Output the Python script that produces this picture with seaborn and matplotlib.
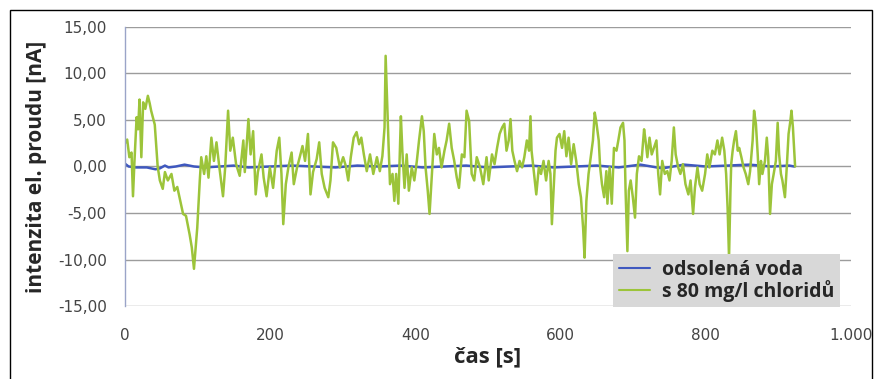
import matplotlib
matplotlib.use("Agg")
import matplotlib.pyplot as plt
import seaborn as sns
import pandas as pd
from matplotlib.ticker import FuncFormatter, MultipleLocator
from matplotlib.patches import Rectangle

# values
green_t = [0, 3, 6, 9, 11, 13, 16, 18, 20, 22.5, 25, 28, 31.5, 34, 36, 41, 45, 48, 52, 55,
           59, 64, 68, 72, 75, 80, 84, 89, 92, 95, 97, 99.5, 103, 105, 109, 112, 115, 119, 122.5, 126,
           130, 135, 138, 142, 145, 148.5, 153, 158, 161, 163, 165, 170, 173, 176.5, 180, 183, 188, 191,
           195, 199.5, 204, 209, 212.5, 215.5, 218, 221.5, 225, 229.5, 232.5, 237, 241, 244.5, 248, 252,
           255.5, 259, 264, 267.5, 271, 275, 280, 283, 286.5, 291, 296, 300.5, 304, 307.5, 311, 315,
           319, 322.5, 325.5, 329, 333, 337.5, 342, 347, 351, 354.5, 357.5, 359, 361, 363, 365, 368.5,
           371, 373.5, 376.5, 380, 382, 385, 388, 391, 395, 398.5, 402, 405, 409, 411.5, 414, 417,
           419.5, 422.5, 426, 429.5, 432.5, 436, 440, 443, 446.5, 450, 453.5, 457, 460, 464, 467.5,
           470.5, 474, 477.5, 481, 484.5, 489, 493.5, 498, 501, 505.5, 509, 512.5, 516, 519.5, 522.5,
           525.5, 528.5, 531, 533.5, 536.5, 540, 543.5, 547, 550, 553.5, 556.5, 558.5, 560, 563, 566.5,
           570, 573, 576.5, 580, 583.5, 586, 588, 590.5, 593, 595, 598.5, 602, 605, 608, 611, 614.5,
           618, 621.5, 625, 628, 631, 633, 635.5, 638.5, 642, 644.5, 647, 649, 652.5, 654.5, 657, 660,
           663, 664.5, 667.5, 670.5, 673.5, 677, 679.5, 682.5, 686, 688, 689.5, 692, 694, 696.5, 699.5,
           702.5, 705, 708, 711.5, 715, 717, 719.5, 722.5, 725.5, 728.5, 732, 734.5, 737, 740, 743.5,
           747, 750, 753, 756, 758.5, 762, 765, 768.5, 772, 776, 779, 782.5, 785, 788.5, 791.5, 795,
           799, 802, 805, 809, 812.5, 816, 819, 822.5, 825.5, 828, 830, 832, 834, 835, 837, 839, 841.5,
           844, 846, 849, 852, 855, 858.5, 861, 864.5, 866.5, 869, 871.5, 873.5, 876, 878, 881.5, 884,
           886, 888.5, 891, 893.5, 896.5, 899, 901, 903.5, 905.5, 909, 911.5, 914, 916.5, 918, 920,
           921.5, 923]
green_v = [2.5, 2.9, 1.0, 1.5, -3.2, 0.5, 5.3, 4.0, 7.2, 1.0, 6.9, 6.2, 7.6, 6.8, 6.0, 4.5, 0.0, -1.5, -2.4, -0.6,
           -1.5, -0.8, -2.6, -2.2, -3.3, -5.1, -5.3, -7.3, -8.7, -11.0, -9.1, -6.6, -1.5, 1.0, -0.8, 1.1, -1.2, 3.1, 0.6, 2.6,
           -0.1, -3.2, -0.1, 6.0, 1.7, 3.1, 0.25, -1.0, 1.3, 2.8, -0.6, 5.1, 1.3, 3.8, -3.0, -0.6, 1.3, -1.2,
           -3.2, -0.1, -2.3, 1.7, 3.1, -0.8, -6.2, -1.9, -0.1, 1.5, -1.9, -0.1, 1.1, 2.2, 0.6, 3.5,
           -3.0, -0.6, 0.8, 2.6, -0.8, -2.3, -3.3, -1.5, 2.6, 2.0, -0.1, 1.0, 0.1, -1.5, 1.0, 3.1,
           3.7, 2.4, 3.1, 1.3, -0.5, 1.3, -0.8, 1.0, -0.5, 1.1, 4.2, 11.9, 7.1, 2.4, -1.9, -0.8,
           -3.7, -0.8, -4.0, 5.4, 1.7, -2.3, 1.3, -2.6, -0.1, -1.5, 0.6, 2.8, 5.4, 3.8, -0.1, -2.6,
           -5.1, -1.2, 3.5, 1.3, 2.0, -0.1, 1.7, 2.8, 4.6, 2.0, 0.6, -1.2, -2.3, 1.3, 1.0,
           6.0, 4.9, -0.8, -1.5, 1.0, -0.1, -1.9, 1.0, -1.5, 1.3, 0.25, 2.0, 3.5, 4.2, 4.6,
           1.7, 2.8, 5.1, 1.7, 0.6, -0.5, 0.6, -0.1, 1.0, 2.8, 1.7, 5.4, 1.7, -0.5, -3.0,
           -0.1, -0.8, 0.6, -1.5, 0.6, -0.8, -6.2, -2.3, 1.7, 3.1, 3.5, 2.0, 3.8, 1.1, 3.1, 0.25,
           2.4, 0.6, -1.9, -3.3, -6.6, -9.8, -3.7, -0.8, 1.3, 2.8, 5.8, 4.9, 2.8, -0.1, -1.9, -3.3,
           -0.5, -4.0, -0.1, -4.0, 2.0, 1.7, 2.8, 4.2, 4.7, 2.8, -2.6, -9.1, -2.6, -1.5, -3.3,
           -5.5, -0.8, 1.1, 0.6, 4.0, 2.8, 1.0, 3.1, 1.3, 2.0, 2.8, -0.8, -3.0, 0.6, -0.8,
           -0.5, -1.5, 0.6, 4.2, 1.3, -0.1, -0.8, 0.25, -1.9, -3.0, -1.5, -5.1, -2.3, -0.1, -1.9, -2.6,
           -0.8, 1.3, -0.1, 1.7, 1.3, 2.8, 1.3, 3.1, 1.7, -0.8, -4.4, -9.8, -2.5, 0.25, 1.7, 2.8, 3.8,
           1.7, 2.0, 1.0, -0.1, -0.8, -1.9, -0.5, 2.8, 6.0, 4.6, 1.3, -1.9, 0.6, -0.8, 0.6, 3.1,
           1.0, -5.1, -1.9, -0.8, 0.6, 4.7, 1.3, -0.8, -1.5, -3.3, -0.1, 3.5, 4.9, 6.0, 4.2,
           2.0, 0.0]

blue_t = [0, 5, 15, 30, 42, 48, 55, 60, 70, 82, 95, 110, 130, 150, 170, 200, 230, 260, 290, 320,
          350, 380, 410, 440, 470, 500, 530, 560, 590, 620, 650, 680, 710, 740, 770, 800, 830, 860,
          890, 915, 922]
blue_v = [0.3, 0.0, -0.1, -0.1, -0.3, -0.2, 0.1, -0.1, 0.0, 0.2, 0.0, -0.1, 0.0, 0.1, -0.1, 0.0, 0.1, 0.0, -0.1, 0.1,
          0.0, 0.1, -0.1, 0.0, 0.1, -0.1, 0.0, 0.1, -0.1, 0.0, 0.1, -0.1, 0.2, -0.2, 0.2, 0.0, 0.1, 0.2,
          0.0, 0.1, 0.0]

series_names = ["odsolená voda", "s 80 mg/l chloridů"]
colors = {"odsolená voda": "#3f58bf", "s 80 mg/l chloridů": "#9cc43a"}

df = pd.concat([
    pd.DataFrame({"t": blue_t, "i": blue_v, "series": series_names[0]}),
    pd.DataFrame({"t": green_t, "i": green_v, "series": series_names[1]}),
])

sns.set_style("white")
plt.rcParams['font.family'] = ['DejaVu Sans']

fig = plt.figure(figsize=(8.78, 3.79), dpi=100)
ax = fig.add_axes([125/878, 1 - 306/379, 726/878, 279/379])

sns.lineplot(data=df, x="t", y="i", hue="series", hue_order=series_names, palette=colors,
             estimator=None, sort=False, linewidth=1.8, ax=ax)

ax.set_xlim(0, 1000)
ax.set_ylim(-15, 15)
ax.xaxis.set_major_locator(MultipleLocator(200))
ax.yaxis.set_major_locator(MultipleLocator(5))
ax.xaxis.set_major_formatter(FuncFormatter(lambda v, p: "{:,.0f}".format(v).replace(",", ".")))
ax.yaxis.set_major_formatter(FuncFormatter(lambda v, p: "{:.2f}".format(v).replace(".", ",")))
ax.tick_params(axis="y", length=0, pad=13, labelsize=11, labelcolor="#444444")
ax.tick_params(axis="x", length=0, pad=16, labelsize=11, labelcolor="#444444")

ax.grid(axis="y", color="#9c9c9c", linewidth=1)
ax.grid(axis="x", visible=False)
for s in ["top", "right", "bottom"]:
    ax.spines[s].set_visible(False)
ax.spines["left"].set_color("#9aa4c8")
ax.spines["left"].set_linewidth(1)

ax.set_xlabel("čas [s]", fontsize=16, fontweight="bold", family="Open Sans", labelpad=2)
ax.set_ylabel("intenzita el. proudu [nA]", fontsize=15, fontweight="bold", family="Open Sans", labelpad=8)

# legend sits on the lower right corner with a grey box and no border
leg = ax.legend(loc="lower right", bbox_to_anchor=(0.985, -0.005), frameon=True, fancybox=False,
                facecolor="#d8d8d8", edgecolor="none", framealpha=1, handlelength=1.6,
                borderpad=0.3, labelspacing=0.0, handletextpad=0.6, borderaxespad=0,
                prop={"family": "Open Sans", "weight": "bold", "size": 14})
for line in leg.get_lines():
    line.set_linewidth(1.5)

# black frame round the whole figure
fig.patches.append(Rectangle((10/878, -0.05), 862/878, 1.05 - 10/379, transform=fig.transFigure,
                             fill=False, edgecolor="black", linewidth=1))

fig.savefig("out.png", dpi=100)
